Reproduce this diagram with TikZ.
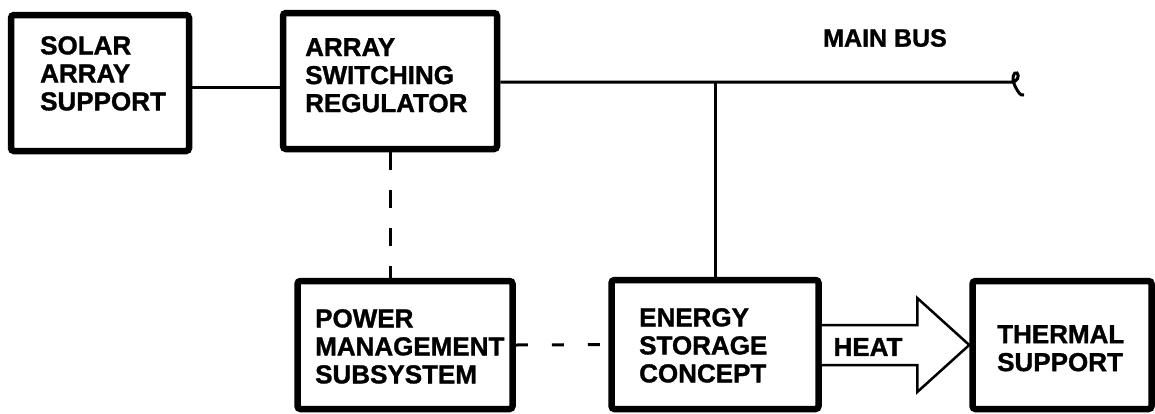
\documentclass[tikz,border=0pt]{standalone}
\usepackage{fontspec}
\setmainfont{Liberation Sans}
\newfontfamily\heavyfont{Liberation Sans Bold}[FakeBold=1.2]
\usetikzlibrary{calc}
\begin{document}
\begin{tikzpicture}[x=1pt,y=-1pt,
  box/.style={draw=black,line width=6.5pt,rounded corners=3pt,inner sep=0pt},
  lbl/.style={font=\heavyfont\fontsize{26}{28}\selectfont,align=left,inner sep=0pt,anchor=north west},
  conn/.style={draw=black,line width=3pt},
  dconn/.style={conn,dash pattern=on 18pt off 20pt},
  hconn/.style={conn,dash pattern=on 12pt off 24pt},
  heatarrow/.style={draw=black,line width=2.5pt,line join=miter,fill=white}]
\useasboundingbox (0,0) rectangle (1155,413);
% boxes
\node[box,minimum width=178pt,minimum height=136pt] (solar) at (100,83) {};
\node[box,minimum width=214pt,minimum height=136pt] (asr) at (390,81) {};
\node[box,minimum width=215pt,minimum height=128pt] (pms) at (405,345) {};
\node[box,minimum width=207pt,minimum height=129pt] (esc) at (715,344.5) {};
\node[box,minimum width=179pt,minimum height=128pt] (therm) at (1062,345) {};
% texts
\node[lbl] (solarT) at (40,36) {SOLAR\\ARRAY\\SUPPORT};
\node[lbl] (asrT) at (305,38) {ARRAY\\SWITCHING\\REGULATOR};
\node[lbl] (pmsT) at (315,309) {POWER\\MANAGEMENT\\SUBSYSTEM};
\node[lbl] (escT) at (639,308) {ENERGY\\STORAGE\\CONCEPT};
\node[lbl] (thermT) at (997,325) {THERMAL\\SUPPORT};
\node[font=\heavyfont\fontsize{25}{28}\selectfont,inner sep=0pt] (mainbus) at (885,38) {MAIN BUS};
% connectors
\coordinate (busend) at (1012,82);
\coordinate (tap) at (715,82);
\draw[conn] ([yshift=-4pt]solar.east) -- ([yshift=-4pt]solar.east -| asr.west);
\draw[conn] (asr.east |- busend) -- (busend)
  .. controls (1017,82) and (1020,76) .. (1017,73)
  .. controls (1014,71) and (1011,78) .. (1015,86)
  .. controls (1018,92) and (1020,96) .. (1024,95);
\draw[conn] (tap) -- (esc.north);
\draw[dconn] (asr.south) -- (asr.south |- pms.north);
\draw[hconn] (pms.east) -- (esc.west);
% heat arrow
\coordinate (hb) at ($(therm.west)+(-52pt,0pt)$);
\draw[heatarrow] ($(esc.east |- hb)+(0pt,20pt)$) -- ($(hb)+(0pt,20pt)$) -- ($(hb)+(0pt,47pt)$)
  -- (therm.west) -- ($(hb)+(0pt,-47pt)$) -- ($(hb)+(0pt,-20pt)$) -- ($(esc.east |- hb)+(0pt,-20pt)$);
\node[font=\heavyfont\fontsize{26}{28}\selectfont,inner sep=0pt] (heat) at (868,347) {HEAT};
\end{tikzpicture}
\end{document}
